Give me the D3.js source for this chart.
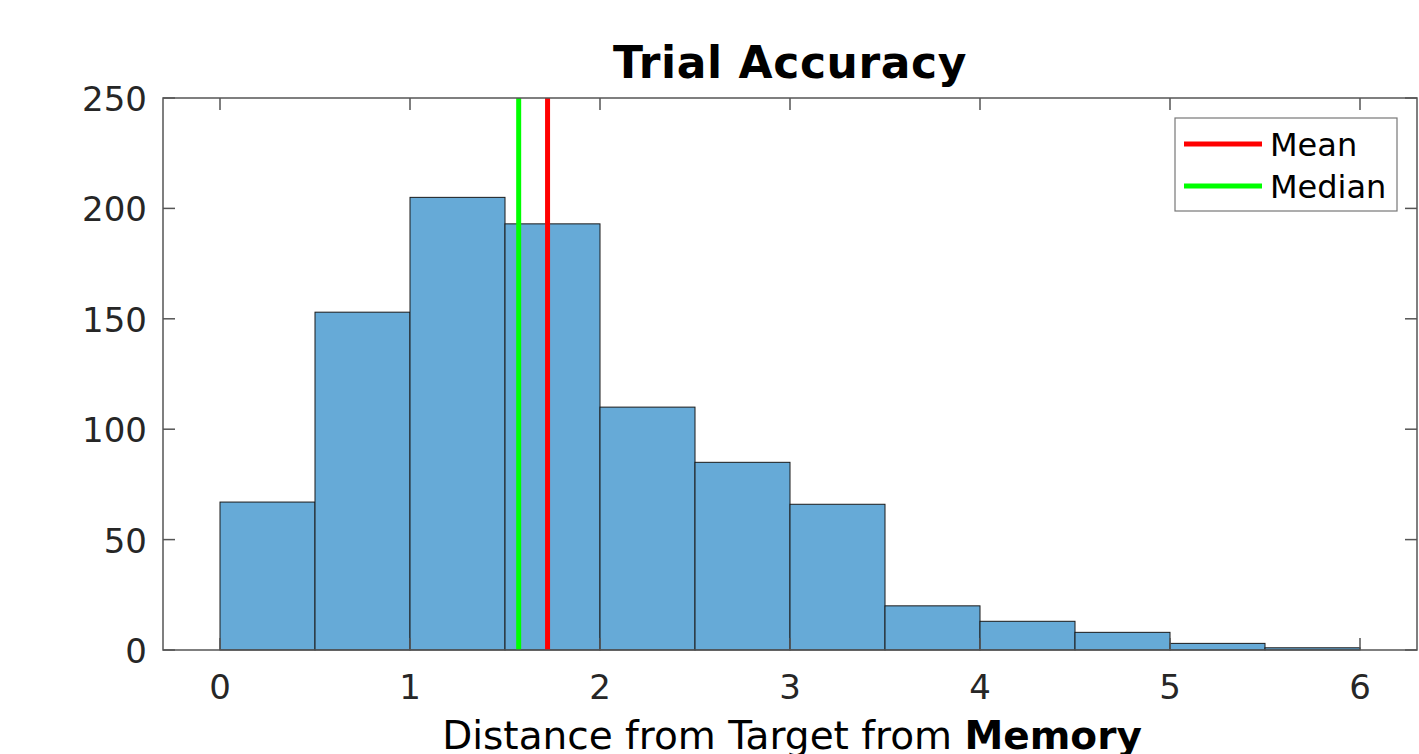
<!DOCTYPE html>
<html><head><meta charset="utf-8">
<script src="https://cdn.jsdelivr.net/npm/d3@7"></script>
<style>body{margin:0;background:#fff}svg{display:block}</style>
</head><body>
<script>
const binStarts = [0,0.5,1,1.5,2,2.5,3,3.5,4,4.5,5,5.5];
const binWidth = 0.5;
const counts = [67,153,205,193,110,85,66,20,13,8,3,1];
const meanValue = 1.724;
const medianValue = 1.572;
const xTicks = [0,1,2,3,4,5,6];
const yTicks = [0,50,100,150,200,250];
const legendLabels = ["Mean","Median"];
const legendColors = ["#ff0000","#00ff00"];

const W=1419,H=754;
const L=163,R=1417,T=98,B=650;
const font='"DejaVu Sans", sans-serif';
const svg=d3.select("body").append("svg").attr("width",W).attr("height",H);
const x=d3.scaleLinear().domain([-0.3,6.3]).range([L,R]);
const y=d3.scaleLinear().domain([0,250]).range([B,T]);

svg.append("g").selectAll("rect").data(counts).join("rect")
 .attr("x",(d,i)=>x(binStarts[i])).attr("width",(d,i)=>x(binStarts[i]+binWidth)-x(binStarts[i]))
 .attr("y",d=>y(d)).attr("height",d=>y(0)-y(d))
 .attr("fill","rgb(102,170,215)").attr("stroke","#1a1a1a").attr("stroke-width",1);

// mean/median lines
svg.append("line").attr("x1",x(medianValue)).attr("x2",x(medianValue)).attr("y1",T).attr("y2",B)
 .attr("stroke",legendColors[1]).attr("stroke-width",5);
svg.append("line").attr("x1",x(meanValue)).attr("x2",x(meanValue)).attr("y1",T).attr("y2",B)
 .attr("stroke",legendColors[0]).attr("stroke-width",5);

// axes
const ax=svg.append("g").attr("font-family",font).attr("fill","#262626");
const frameColor="#555";
ax.append("rect").attr("x",L).attr("y",T).attr("width",R-L).attr("height",B-T)
 .attr("fill","none").attr("stroke",frameColor).attr("stroke-width",1.5);
xTicks.forEach(t=>{
  ax.append("line").attr("x1",x(t)).attr("x2",x(t)).attr("y1",B).attr("y2",B-12).attr("stroke",frameColor).attr("stroke-width",1.5);
  ax.append("line").attr("x1",x(t)).attr("x2",x(t)).attr("y1",T).attr("y2",T+12).attr("stroke",frameColor).attr("stroke-width",1.5);
  ax.append("text").attr("x",x(t)).attr("y",699).attr("text-anchor","middle").attr("font-size",34).text(t);
});
yTicks.forEach(t=>{
  ax.append("line").attr("x1",L).attr("x2",L+12).attr("y1",y(t)).attr("y2",y(t)).attr("stroke",frameColor).attr("stroke-width",1.5);
  ax.append("line").attr("x1",R).attr("x2",R-12).attr("y1",y(t)).attr("y2",y(t)).attr("stroke",frameColor).attr("stroke-width",1.5);
  ax.append("text").attr("x",147).attr("y",y(t)+13).attr("text-anchor","end").attr("font-size",34).text(t);
});
// title
svg.append("text").attr("x",790).attr("y",78).attr("text-anchor","middle").attr("font-family",font)
 .attr("font-weight","bold").attr("font-size",44).attr("letter-spacing",0.6).attr("fill","#000").text("Trial Accuracy");
// xlabel
const xl=svg.append("text").attr("x",792).attr("y",749).attr("text-anchor","middle").attr("font-family",font)
 .attr("font-size",39).attr("fill","#000");
xl.append("tspan").text("Distance from Target from ");
xl.append("tspan").attr("font-weight","bold").text("Memory");

// legend
const lg=svg.append("g");
lg.append("rect").attr("x",1175).attr("y",118).attr("width",222).attr("height",93)
 .attr("fill","#fff").attr("stroke","#777").attr("stroke-width",1.2);
legendLabels.forEach((lab,i)=>{
  const yy=144+i*42;
  lg.append("line").attr("x1",1184).attr("x2",1262).attr("y1",yy).attr("y2",yy).attr("stroke",legendColors[i]).attr("stroke-width",5);
  lg.append("text").attr("x",1270).attr("y",yy+12).attr("font-family",font).attr("font-size",32).attr("fill","#000").text(lab);
});
</script>
</body></html>
